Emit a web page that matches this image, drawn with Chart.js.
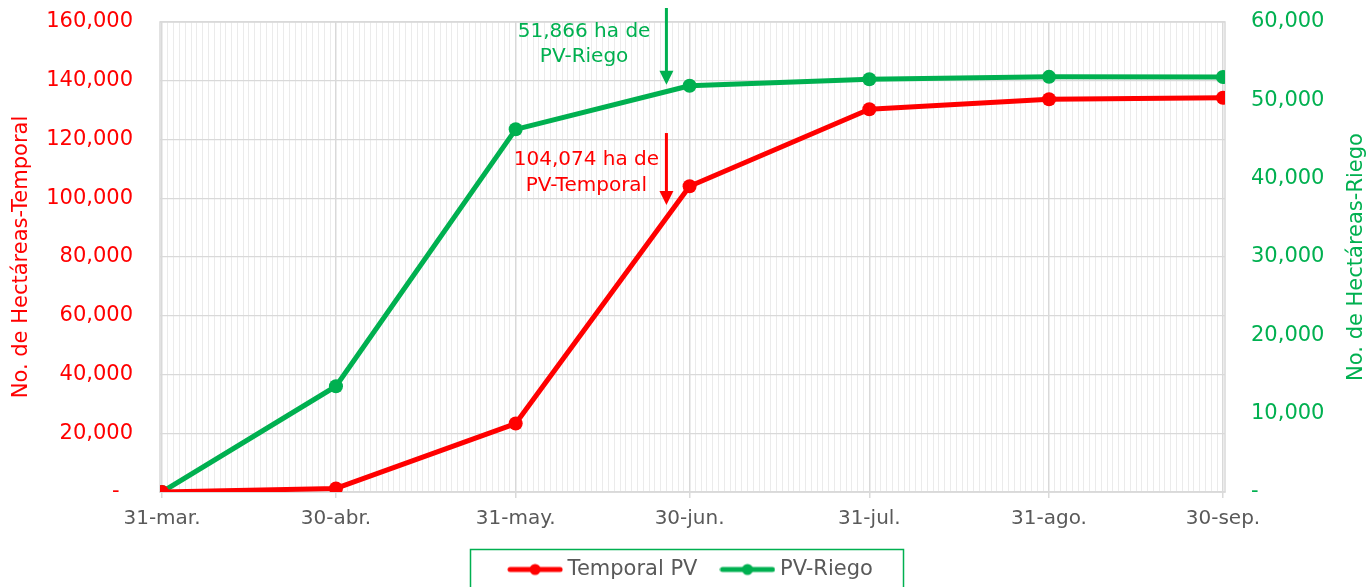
<!DOCTYPE html>
<html>
<head>
<meta charset="utf-8">
<script src="https://cdn.jsdelivr.net/npm/chart.js@4.4.1/dist/chart.umd.min.js"></script>
<style>
  html, body { margin: 0; padding: 0; background: #ffffff; }
  #wrap { width: 1368px; height: 587px; position: relative; }
</style>
</head>
<body>
<div id="wrap"><canvas id="c"></canvas></div>
<script>
// ---- Data ----
const fechas = ['2024-03-31', '2024-04-30', '2024-05-31', '2024-06-30', '2024-07-31', '2024-08-31', '2024-09-30'];
const etiquetas = ['31-mar.', '30-abr.', '31-may.', '30-jun.', '31-jul.', '31-ago.', '30-sep.'];
const temporalPV = [0, 1200, 23300, 104074, 130300, 133700, 134200];
const pvRiego = [0, 13500, 46300, 51866, 52700, 53000, 52980];
const ticksTemporal = [0, 20000, 40000, 60000, 80000, 100000, 120000, 140000, 160000];
const ticksRiego = [0, 10000, 20000, 30000, 40000, 50000, 60000];

const ROJO = '#FF0000';
const VERDE = '#00B050';
const GRIS = '#595959';
const FONT = "'DejaVu Sans', sans-serif";

const DAY = 86400000;
const t0 = Date.parse(fechas[0]);
const dias = fechas.map(f => Math.round((Date.parse(f) - t0) / DAY));
const diaFin = dias[dias.length - 1];

const anotaciones = [
  { lineas: ['51,866 ha de', 'PV-Riego'], color: VERDE, eje: 'y2',
    textoDia: 72.8, textoValores: [58700, 55530],
    flechaDia: 87, flechaDesde: 61790, flechaHasta: 52000 },
  { lineas: ['104,074 ha de', 'PV-Temporal'], color: ROJO, eje: 'y1',
    textoDia: 73.2, textoValores: [113000, 104100],
    flechaDia: 87, flechaDesde: 122200, flechaHasta: 97700 }
];

function legendIcon(color) {
  const c = document.createElement('canvas');
  c.width = 56; c.height = 14;
  const g = c.getContext('2d');
  g.strokeStyle = color; g.lineWidth = 5; g.lineCap = 'round';
  g.beginPath(); g.moveTo(3, 7); g.lineTo(53, 7); g.stroke();
  g.fillStyle = color;
  g.beginPath(); g.arc(28, 7, 5.5, 0, Math.PI * 2); g.fill();
  return c;
}
const iconos = [legendIcon(ROJO), legendIcon(VERDE)];

const extras = {
  id: 'extras',
  beforeDatasetsDraw(chart) {
    const { ctx, chartArea: a } = chart;
    ctx.save();
    ctx.strokeStyle = '#d9d9d9';
    ctx.lineWidth = 1.5;
    ctx.strokeRect(a.left, a.top, a.right - a.left, a.bottom - a.top);
    ctx.restore();
  },
  afterDatasetsDraw(chart) {
    const { ctx } = chart;
    const xs = chart.scales.x;
    ctx.save();
    anotaciones.forEach(an => {
      const ys = chart.scales[an.eje];
      ctx.fillStyle = an.color;
      ctx.strokeStyle = an.color;
      ctx.font = '20px ' + FONT;
      ctx.textAlign = 'center';
      ctx.textBaseline = 'middle';
      const tx = xs.getPixelForValue(an.textoDia);
      an.lineas.forEach((l, i) => ctx.fillText(l, tx, ys.getPixelForValue(an.textoValores[i])));
      const ax = xs.getPixelForValue(an.flechaDia);
      const y0 = ys.getPixelForValue(an.flechaDesde);
      const y1 = ys.getPixelForValue(an.flechaHasta);
      ctx.lineWidth = 3;
      ctx.beginPath(); ctx.moveTo(ax, y0); ctx.lineTo(ax, y1 - 12); ctx.stroke();
      ctx.beginPath();
      ctx.moveTo(ax - 7, y1 - 14); ctx.lineTo(ax + 7, y1 - 14); ctx.lineTo(ax, y1); ctx.closePath();
      ctx.fill();
    });
    ctx.restore();
  },
  afterDraw(chart) {
    const { ctx, chartArea: a } = chart;
    const cy = (a.top + a.bottom) / 2;
    ctx.save();
    ctx.font = '21px ' + FONT;
    ctx.textAlign = 'center';
    ctx.textBaseline = 'middle';
    ctx.fillStyle = ROJO;
    ctx.translate(22, cy); ctx.rotate(-Math.PI / 2);
    ctx.fillText('No. de Hectáreas-Temporal', 0, 0);
    ctx.restore();
    ctx.save();
    ctx.font = '21px ' + FONT;
    ctx.textAlign = 'center';
    ctx.textBaseline = 'middle';
    ctx.fillStyle = VERDE;
    ctx.translate(1357, cy); ctx.rotate(-Math.PI / 2);
    ctx.fillText('No. de Hectáreas-Riego', 0, 0);
    ctx.restore();
    // legend border
    const lg = chart.legend;
    if (lg && lg.legendHitBoxes && lg.legendHitBoxes.length) {
      const hb = lg.legendHitBoxes;
      const first = hb[0], last = hb[hb.length - 1];
      const cx = (first.left - 6 + last.left + last.width) / 2 - 3;
      const ty = first.top + first.height / 2 - 20;
      ctx.save();
      ctx.strokeStyle = VERDE;
      ctx.lineWidth = 1.5;
      ctx.strokeRect(cx - 216.5, ty, 433, 60);
      ctx.restore();
    }
  }
};

const majors = new Set(dias);

new Chart(document.getElementById('c'), {
  type: 'line',
  data: {
    datasets: [
      { label: 'Temporal PV', data: dias.map((d, i) => ({ x: d, y: temporalPV[i] })), yAxisID: 'y1',
        borderColor: ROJO, backgroundColor: ROJO, borderWidth: 5, pointRadius: 7, pointHoverRadius: 7,
        pointBorderWidth: 0, borderJoinStyle: 'round', borderCapStyle: 'round', tension: 0 },
      { label: 'PV-Riego', data: dias.map((d, i) => ({ x: d, y: pvRiego[i] })), yAxisID: 'y2',
        borderColor: VERDE, backgroundColor: VERDE, borderWidth: 5, pointRadius: 7, pointHoverRadius: 7,
        pointBorderWidth: 0, borderJoinStyle: 'round', borderCapStyle: 'round', tension: 0 }
    ]
  },
  options: {
    responsive: true,
    maintainAspectRatio: false,
    animation: false,
    layout: { padding: { top: 22, bottom: -3, left: 18, right: 0 } },
    plugins: {
      tooltip: { enabled: false },
      legend: {
        position: 'bottom',
        labels: {
          font: { family: FONT, size: 21 },
          color: GRIS,
          usePointStyle: true,
          pointStyleWidth: 44,
          padding: 28,
          generateLabels(chart) {
            const items = Chart.defaults.plugins.legend.labels.generateLabels(chart);
            items.forEach((it, i) => { it.pointStyle = iconos[i]; });
            return items;
          }
        }
      }
    },
    scales: {
      x: {
        type: 'linear',
        min: -0.35,
        max: diaFin + 0.35,
        afterBuildTicks(scale) { scale.ticks = Array.from({ length: diaFin + 1 }, (_, d) => ({ value: d })); },
        afterFit(scale) { scale.height = 39; },
        ticks: {
          autoSkip: false, maxRotation: 0, minRotation: 0,
          color: GRIS, font: { family: FONT, size: 20 }, padding: 9,
          callback(v) { const i = dias.indexOf(v); return i >= 0 ? etiquetas[i] : ''; }
        },
        grid: {
          color: c => majors.has(c.tick && c.tick.value) ? '#d9d9d9' : '#ebebeb',
          lineWidth: c => majors.has(c.tick && c.tick.value) ? 1.5 : 1,
          tickColor: c => majors.has(c.tick && c.tick.value) ? '#d9d9d9' : 'rgba(0,0,0,0)',
          tickLength: 6,
          drawTicks: true
        },
        border: { display: true, color: '#d9d9d9', width: 1.5 }
      },
      y1: {
        position: 'left',
        min: ticksTemporal[0],
        max: ticksTemporal[ticksTemporal.length - 1],
        afterBuildTicks(scale) { scale.ticks = ticksTemporal.map(v => ({ value: v })); },
        afterFit(scale) { scale.width = 142; },
        ticks: {
          color: ROJO, font: { family: FONT, size: 21 }, padding: 0,
          callback: v => v === 0 ? '-  ' : v.toLocaleString('en-US')
        },
        grid: { color: '#d9d9d9', lineWidth: 1.3, drawTicks: true, tickLength: 27, tickColor: 'rgba(0,0,0,0)' },
        border: { display: false }
      },
      y2: {
        position: 'right',
        min: ticksRiego[0],
        max: ticksRiego[ticksRiego.length - 1],
        afterBuildTicks(scale) { scale.ticks = ticksRiego.map(v => ({ value: v })); },
        afterFit(scale) { scale.width = 143; },
        ticks: {
          color: VERDE, font: { family: FONT, size: 21 }, padding: 0,
          callback: v => v === 0 ? '-' : v.toLocaleString('en-US')
        },
        grid: { drawOnChartArea: false, drawTicks: true, tickLength: 26, tickColor: 'rgba(0,0,0,0)' },
        border: { display: false }
      }
    }
  },
  plugins: [extras]
});
</script>
</body>
</html>
